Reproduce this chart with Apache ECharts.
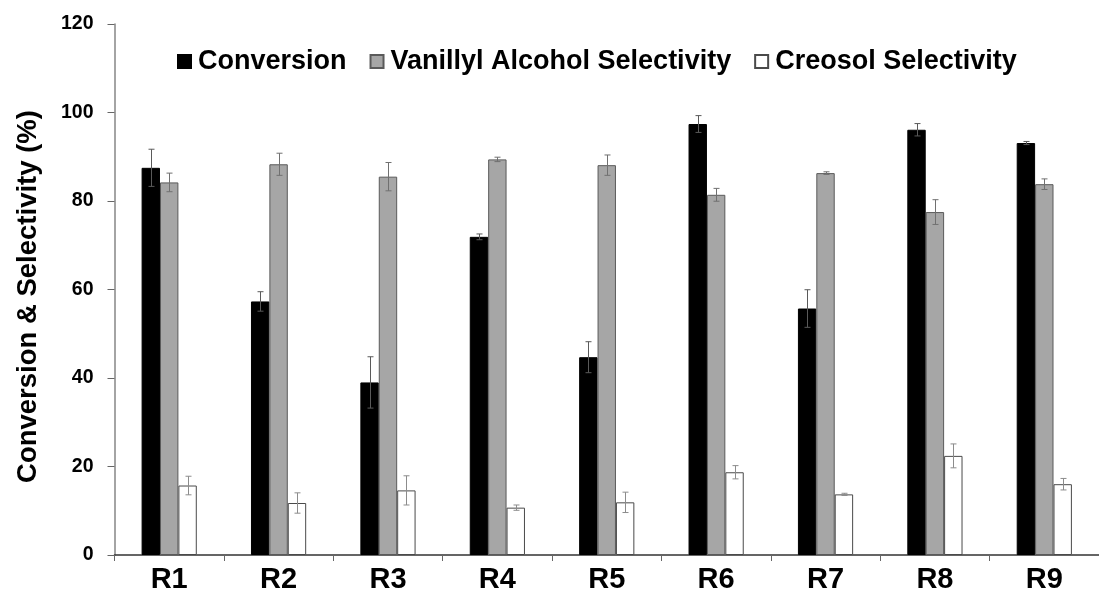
<!DOCTYPE html>
<html>
<head>
<meta charset="utf-8">
<title>Conversion & Selectivity</title>
<script src="https://cdn.jsdelivr.net/npm/echarts@6/dist/echarts.min.js"></script>
<style>
  html, body { margin: 0; padding: 0; background: #ffffff; }
  #chart { width: 1099px; height: 601px; }
</style>
</head>
<body>
<div id="chart"></div>
<script>
// Runs R1–R9: mean values (%) and their standard deviations
var categories = ['R1', 'R2', 'R3', 'R4', 'R5', 'R6', 'R7', 'R8', 'R9'];
var conversion    = [87.5, 57.3, 39.0, 71.9, 44.7, 97.4, 55.7, 96.1, 93.1];
var conversionErr = [4.2, 2.2, 5.8, 0.65, 3.5, 1.9, 4.25, 1.4, 0.35];
var vanillyl      = [84.2, 88.3, 85.5, 89.4, 88.1, 81.4, 86.3, 77.5, 83.8];
var vanillylErr   = [2.1, 2.5, 3.2, 0.5, 2.3, 1.45, 0.3, 2.8, 1.2];
var creosol       = [15.7, 11.75, 14.6, 10.7, 11.9, 18.7, 13.7, 22.4, 16.0];
var creosolErr    = [2.1, 2.3, 3.3, 0.6, 2.3, 1.5, 0.25, 2.7, 1.3];
var yTicks = { min: 0, max: 120, interval: 20 };

var BAR_W = 18.4;
var FONT = '"Liberation Sans", Arial, sans-serif';

// Error bars drawn as I-beams, shifted to the centre of each bar in the group
function errorSeries(name, values, errs, slot, color) {
  return {
    type: 'custom',
    name: name + ' error',
    silent: true,
    z: 5,
    data: values.map(function (v, i) { return [i, v, errs[i]]; }),
    renderItem: function (params, api) {
      var i = api.value(0), v = api.value(1), e = api.value(2);
      var top = api.coord([i, v + e]);
      var bot = api.coord([i, v - e]);
      var x = Math.round(top[0] + slot * BAR_W) + 0.5;
      var cap = 3;
      var st = { stroke: color, lineWidth: 1 };
      return {
        type: 'group',
        children: [
          { type: 'line', shape: { x1: x, y1: top[1], x2: x, y2: bot[1] }, style: st },
          { type: 'line', shape: { x1: x - cap, y1: top[1], x2: x + cap, y2: top[1] }, style: st },
          { type: 'line', shape: { x1: x - cap, y1: bot[1], x2: x + cap, y2: bot[1] }, style: st }
        ]
      };
    }
  };
}

var chart = echarts.init(document.getElementById('chart'), null, { renderer: 'canvas' });

chart.setOption({
  backgroundColor: '#ffffff',
  animation: false,
  legend: {
    data: ['Conversion', 'Vanillyl Alcohol Selectivity', 'Creosol Selectivity'],
    left: 172,
    top: 43,
    icon: 'rect',
    itemWidth: 13,
    itemHeight: 13,
    itemGap: 23,
    textStyle: {
      fontFamily: FONT,
      fontWeight: 'bold',
      fontSize: 27,
      color: '#000000',
      padding: [0, 0, 0, 2]
    }
  },
  grid: {
    left: 114.5,
    top: 24,
    width: 991,
    bottom: 46
  },
  xAxis: {
    type: 'category',
    data: categories,
    axisLine: { show: true, lineStyle: { color: '#333333', width: 1.5 } },
    axisTick: { show: true, alignWithLabel: false, length: 6, lineStyle: { color: '#666666', width: 1 } },
    axisLabel: {
      fontFamily: FONT,
      fontWeight: 'bold',
      fontSize: 29,
      color: '#000000',
      margin: 10
    },
    splitLine: { show: false }
  },
  yAxis: {
    type: 'value',
    min: yTicks.min,
    max: yTicks.max,
    interval: yTicks.interval,
    name: 'Conversion & Selectivity (%)',
    nameLocation: 'middle',
    nameGap: 72,
    nameTextStyle: {
      fontFamily: FONT,
      fontWeight: 'bold',
      fontSize: 27.5,
      color: '#000000',
      padding: [0, 14, 0, 0]
    },
    axisLine: { show: true, lineStyle: { color: '#868686', width: 1.5 } },
    axisTick: { show: true, length: 7, lineStyle: { color: '#666666', width: 1 } },
    axisLabel: {
      fontFamily: FONT,
      fontWeight: 'bold',
      fontSize: 19.5,
      color: '#000000',
      margin: 21
    },
    splitLine: { show: false }
  },
  series: [
    {
      name: 'Conversion',
      type: 'bar',
      data: conversion,
      barWidth: BAR_W,
      barGap: '0%',
      itemStyle: { color: '#000000', borderColor: '#000000', borderWidth: 1 }
    },
    {
      name: 'Vanillyl Alcohol Selectivity',
      type: 'bar',
      data: vanillyl,
      barWidth: BAR_W,
      barGap: '0%',
      itemStyle: { color: '#a6a6a6', borderColor: '#5a5a5a', borderWidth: 1 }
    },
    {
      name: 'Creosol Selectivity',
      type: 'bar',
      data: creosol,
      barWidth: BAR_W,
      barGap: '0%',
      itemStyle: { color: '#ffffff', borderColor: '#4a4a4a', borderWidth: 1 }
    },
    errorSeries('Conversion', conversion, conversionErr, -1, '#5a5a5a'),
    errorSeries('Vanillyl Alcohol Selectivity', vanillyl, vanillylErr, 0, '#707070'),
    errorSeries('Creosol Selectivity', creosol, creosolErr, 1, '#8c8c8c')
  ]
});
</script>
</body>
</html>
